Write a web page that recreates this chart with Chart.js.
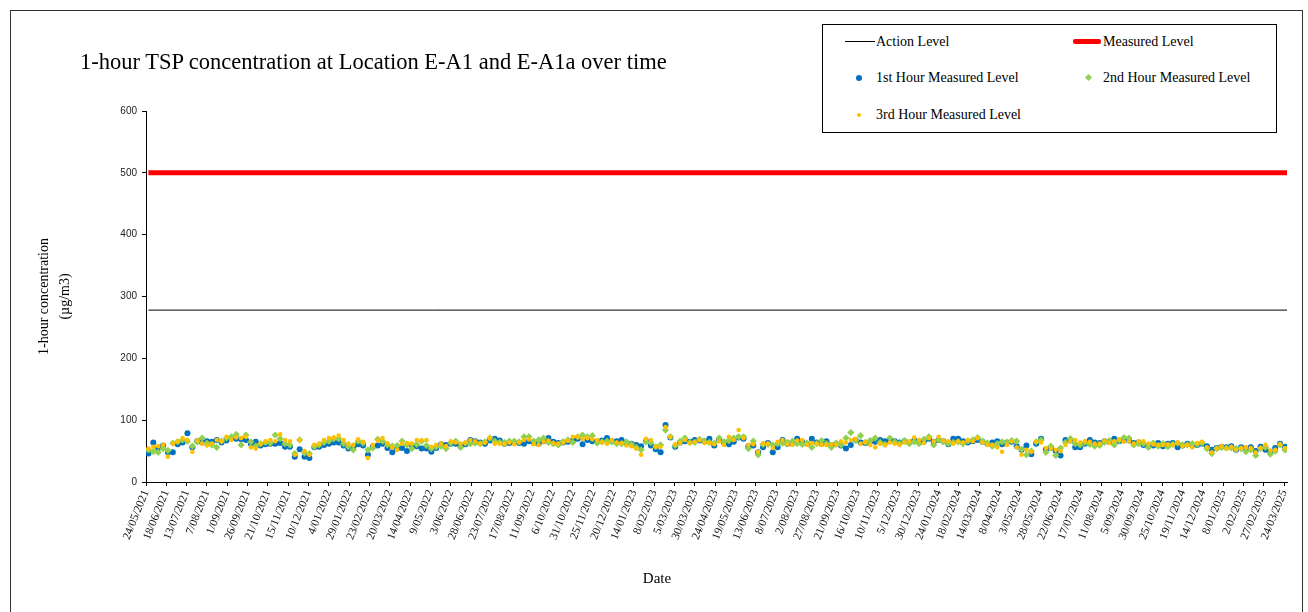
<!DOCTYPE html>
<html>
<head>
<meta charset="utf-8">
<script src="https://cdn.jsdelivr.net/npm/chart.js@4.4.1/dist/chart.umd.min.js"></script>
<style>
  html, body { margin: 0; padding: 0; background: #fff; }
  #wrap { position: relative; width: 1308px; height: 612px; overflow: hidden; background: #fff; }
  #frame { position: absolute; left: 10px; top: 10px; width: 1293px; height: 650px; border: 1px solid #333; box-sizing: border-box; pointer-events: none; }
  #chart { position: absolute; left: 0; top: 0; }
  #title { position: absolute; left: 80px; top: 48px; font-family: 'Liberation Serif', serif; font-size: 22.5px; line-height: 28px; color: #000; white-space: nowrap; }
  #xtitle { position: absolute; left: 557px; width: 200px; text-align: center; top: 569px; font-family: 'Liberation Serif', serif; font-size: 15px; line-height: 18px; color: #000; }
  #legend { position: absolute; left: 822px; top: 24px; width: 455px; height: 109px; border: 1px solid #000; box-sizing: border-box; background: #fff; font-family: 'Liberation Serif', serif; font-size: 14px; color: #000; }
  .item { position: absolute; white-space: nowrap; line-height: 16px; }
  .sw { position: absolute; }
</style>
</head>
<body>
<div id="wrap">
  <canvas id="chart" width="1308" height="612"></canvas>
  <div id="title"></div>
  <div id="xtitle"></div>
  <div id="legend"></div>
  <div id="frame"></div>
</div>
<script>
// ---------------- data ----------------
const chartTitle = '1-hour TSP concentration at Location E-A1 and E-A1a over time';
const yAxisTitle = ['1-hour concentration', '(µg/m3)'];
const xAxisTitle = 'Date';
const seriesNames = ['Action Level', 'Measured Level', '1st Hour Measured Level', '2nd Hour Measured Level', '3rd Hour Measured Level'];

const actionLevel = 278;
const measuredLevel = 500;

const yTicks = [0, 100, 200, 300, 400, 500, 600];

const xTickLabels = [
  '24/05/2021','18/06/2021','13/07/2021','7/08/2021','1/09/2021','26/09/2021','21/10/2021','15/11/2021',
  '10/12/2021','4/01/2022','29/01/2022','23/02/2022','20/03/2022','14/04/2022','9/05/2022','3/06/2022',
  '28/06/2022','23/07/2022','17/08/2022','11/09/2022','6/10/2022','31/10/2022','25/11/2022','20/12/2022',
  '14/01/2023','8/02/2023','5/03/2023','30/03/2023','24/04/2023','19/05/2023','13/06/2023','8/07/2023',
  '2/08/2023','27/08/2023','21/09/2023','16/10/2023','10/11/2023','5/12/2023','30/12/2023','24/01/2024',
  '18/02/2024','14/03/2024','8/04/2024','3/05/2024','28/05/2024','22/06/2024','17/07/2024','11/08/2024',
  '5/09/2024','30/09/2024','25/10/2024','19/11/2024','14/12/2024','8/01/2025','2/02/2025','27/02/2025',
  '24/03/2025'
];
const axisEndDate = '27/03/2025';

// monitoring schedule: one set of three hourly samples every 6 days
const firstSampleDate = '27/05/2021';
const sampleIntervalDays = 6;

const hour1 = [
  46,64,55,59,48,48,61,64,79,56,66,64,66,65,68,64,67,71,70,69,68,62,65,59,61,62,62,63,57,57,41,53,41,39,56,57,60,62,64,
  64,59,54,56,61,59,44,57,59,62,55,48,54,55,50,59,58,54,54,49,55,61,60,62,62,58,61,68,66,64,62,67,70,67,62,63,64,63,62,
  66,63,62,66,71,65,63,64,65,67,70,61,68,66,65,67,71,66,66,68,63,62,60,58,66,59,53,48,92,72,57,64,66,65,68,67,66,70,59,
  68,64,61,65,72,70,58,59,48,56,63,48,56,68,62,63,70,65,62,70,64,62,66,60,61,59,54,60,68,64,63,66,65,68,66,67,66,64,66,
  64,67,64,66,70,65,68,66,61,70,70,66,64,66,68,65,62,64,66,61,64,65,58,52,59,45,62,70,53,55,50,43,68,67,56,56,62,68,64,
  63,66,65,70,66,68,67,63,64,60,58,59,63,58,62,63,56,59,62,60,60,62,58,52,55,57,56,58,52,56,54,56,50,57,52,49,55,62,57,54
];
const hour2 = [
  52,49,48,54,51,63,65,68,66,58,65,71,63,60,56,66,71,73,77,60,76,65,58,62,64,63,76,70,62,60,46,68,47,46,57,60,64,66,70,
  70,62,57,52,66,63,52,55,69,66,60,58,59,66,60,54,61,66,59,54,57,58,54,63,66,56,63,62,63,62,65,71,66,64,64,66,66,65,73,
  73,66,68,71,64,62,60,65,68,64,73,76,73,75,63,65,66,65,62,62,65,61,56,52,65,64,57,60,84,73,59,66,71,64,64,69,66,64,63,
  71,65,67,71,73,73,54,66,44,61,61,60,62,63,64,66,62,61,63,56,62,67,62,56,63,60,71,80,67,75,64,67,71,64,61,71,65,62,67,
  62,65,62,69,73,60,68,65,62,64,65,62,66,68,72,66,63,58,62,65,64,67,66,53,44,50,65,68,48,58,43,55,64,70,62,60,64,61,58,
  59,64,67,60,67,72,71,60,62,62,56,63,58,62,57,61,63,60,60,62,61,63,54,46,54,56,55,55,54,54,49,52,43,54,56,45,50,60,52,49
];
const hour3 = [
  54,57,58,60,41,62,66,71,68,49,67,62,59,62,68,66,73,68,72,71,73,56,54,62,66,68,66,77,68,66,44,68,50,44,60,62,68,71,72,
  75,68,62,60,69,65,39,60,67,71,63,56,52,62,63,62,68,67,68,57,60,62,58,66,64,62,64,68,66,62,64,71,62,62,61,64,61,64,68,
  69,61,60,65,67,63,62,64,67,73,73,70,71,69,68,64,62,68,64,63,59,58,54,44,70,68,57,57,89,73,61,63,68,63,65,68,63,63,61,
  66,60,73,68,84,71,60,61,49,62,62,55,65,68,61,60,67,68,60,63,62,60,60,61,60,66,64,68,70,62,65,60,56,62,60,64,62,60,64,
  66,72,68,63,71,66,73,67,66,62,66,64,68,66,71,64,60,60,56,49,60,66,56,44,52,49,66,64,55,54,52,50,60,66,68,64,66,65,62,
  62,67,63,66,69,65,66,62,66,66,62,61,60,60,61,60,64,58,60,56,63,65,56,48,54,58,54,57,52,55,56,55,48,55,60,51,52,61,55,53
];

// ---------------- helpers ----------------
const DAY = 86400000;
function parseDMY(s) { const p = s.split('/').map(Number); return Date.UTC(p[2], p[1] - 1, p[0]); }
const origin = parseDMY(xTickLabels[0]);
function dayOf(s) { return Math.round((parseDMY(s) - origin) / DAY); }
function fmtDay(v) {
  const d = new Date(origin + v * DAY);
  return d.getUTCDate() + '/' + String(d.getUTCMonth() + 1).padStart(2, '0') + '/' + d.getUTCFullYear();
}
const tickDays = xTickLabels.map(dayOf);
const xMax = dayOf(axisEndDate) + 0.5;
const sampleDays = hour1.map((_, i) => dayOf(firstSampleDate) + i * sampleIntervalDays);
const toPts = arr => arr.map((v, i) => ({ x: sampleDays[i], y: v }));
const firstDay = sampleDays[0], lastDay = sampleDays[sampleDays.length - 1];

// ---------------- title & legend (text) ----------------
document.getElementById('title').textContent = chartTitle;
document.getElementById('xtitle').textContent = xAxisTitle;
const lg = document.getElementById('legend');
function addItem(left, top, text) {
  const d = document.createElement('div'); d.className = 'item';
  d.style.left = left + 'px'; d.style.top = top + 'px'; d.textContent = text; lg.appendChild(d);
}
function addSw(css) { const d = document.createElement('div'); d.className = 'sw'; Object.assign(d.style, css); lg.appendChild(d); }
// row 1
addSw({ left: '22px', top: '16px', width: '30px', height: '1px', background: '#000' });
addItem(53, 9, seriesNames[0]);
addSw({ left: '250px', top: '14px', width: '28px', height: '5px', background: '#FF0000', borderRadius: '2px' });
addItem(280, 9, seriesNames[1]);
// row 2
addSw({ left: '33px', top: '50px', width: '6px', height: '6px', background: '#0070C0', borderRadius: '50%' });
addItem(53, 45, seriesNames[2]);
addSw({ left: '263px', top: '50px', width: '5px', height: '5px', background: '#92D050', transform: 'rotate(45deg)' });
addItem(280, 45, seriesNames[3]);
// row 3
addSw({ left: '34px', top: '88px', width: '4px', height: '4px', background: '#FFC000', borderRadius: '50%' });
addItem(53, 82, seriesNames[4]);

// ---------------- chart ----------------
const ctx = document.getElementById('chart').getContext('2d');
new Chart(ctx, {
  type: 'scatter',
  data: {
    datasets: [
      { label: seriesNames[4], data: toPts(hour3), backgroundColor: '#FFC000', borderColor: '#FFC000', borderWidth: 0, pointRadius: 2.3, pointStyle: 'circle', order: 0 },
      { label: seriesNames[3], data: toPts(hour2), backgroundColor: '#92D050', borderColor: '#92D050', borderWidth: 0, pointRadius: 3.6, pointStyle: 'rectRot', order: 1 },
      { label: seriesNames[2], data: toPts(hour1), backgroundColor: '#0070C0', borderColor: '#0070C0', borderWidth: 0, pointRadius: 3, pointStyle: 'circle', order: 2 },
      { type: 'line', label: seriesNames[0], data: [{ x: firstDay, y: actionLevel }, { x: lastDay, y: actionLevel }], borderColor: '#000', borderWidth: 1, pointRadius: 0, order: 3 },
      { type: 'line', label: seriesNames[1], data: [{ x: firstDay, y: measuredLevel }, { x: lastDay, y: measuredLevel }], borderColor: '#FF0000', borderWidth: 5, pointRadius: 0, order: 4 }
    ]
  },
  options: {
    responsive: false,
    animation: false,
    devicePixelRatio: 1,
    layout: { padding: { left: 30, right: 21, top: 111, bottom: 0 } },
    plugins: { legend: { display: false }, tooltip: { enabled: false }, title: { display: false } },
    scales: {
      x: {
        type: 'linear',
        min: 0,
        max: xMax,
        afterFit(s) { s.height = 130; },
        afterBuildTicks(s) { s.ticks = tickDays.map(v => ({ value: v })); },
        grid: { drawOnChartArea: false, tickLength: 4, color: '#000', tickColor: '#000' },
        border: { color: '#000', width: 1 },
        ticks: {
          autoSkip: false, minRotation: 68, maxRotation: 68, padding: 2,
          font: { family: 'Liberation Serif', size: 11.5 }, color: '#111',
          callback: v => fmtDay(v)
        },
        title: { display: false }
      },
      y: {
        min: yTicks[0],
        max: yTicks[yTicks.length - 1],
        afterFit(s) { s.width = 116; },
        afterBuildTicks(s) { s.ticks = yTicks.map(v => ({ value: v })); },
        grid: { drawOnChartArea: false, tickLength: 4, color: '#000', tickColor: '#000' },
        border: { color: '#000', width: 1 },
        ticks: { padding: 5, font: { family: 'Liberation Sans', size: 10 }, color: '#222' },
        title: { display: true, text: yAxisTitle, color: '#000', font: { family: 'Liberation Serif', size: 14, lineHeight: 1.5 }, padding: { top: 4, bottom: 0 } }
      }
    }
  }
});
</script>
</body>
</html>
